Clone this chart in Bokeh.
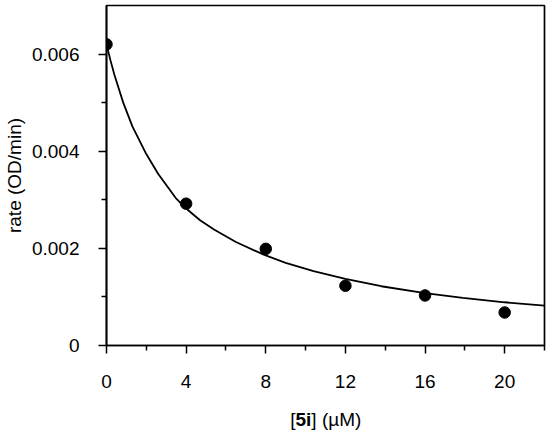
from bokeh.plotting import figure
from bokeh.layouts import column
from bokeh.models import FixedTicker
from bokeh.core.properties import value
from bokeh.embed import file_html
from bokeh.resources import INLINE

# measured points
conc = [0, 4, 8, 12, 16, 20]
rate = [0.00620, 0.00292, 0.00199, 0.00123, 0.00103, 0.00068]

# fitted curve
fit_x = [0, 0.2, 0.4, 0.84, 1.3, 1.96, 2.6, 3.47, 4.0, 4.7, 5.4, 6.5, 7.9, 9.0,
         10.4, 12.0, 13.8, 16.0, 17.9, 20.0, 22.0]
fit_y = [0.00620, 0.00587, 0.00557, 0.00500, 0.00451, 0.00397, 0.00353, 0.00304,
         0.00282, 0.00258, 0.00239, 0.00213, 0.00187, 0.00170, 0.00153, 0.00137,
         0.00122, 0.00108, 0.00098, 0.00089, 0.00082]

x_ticks = [0, 4, 8, 12, 16, 20]
x_minor = [2, 6, 10, 14, 18, 22]
y_ticks = [0, 0.002, 0.004, 0.006]
y_minor = [0.001, 0.003, 0.005]
y_tick_labels = ["0", "0.002", "0.004", "0.006"]

FONT = "Liberation Sans"
FS = "19px"

p = figure(width=550, height=400, x_range=(0, 22), y_range=(0, 0.007),
           output_backend="svg", toolbar_location=None,
           min_border_left=106, min_border_right=6, min_border_top=5,
           min_border_bottom=55)
p.grid.visible = False
p.background_fill_color = "white"
p.border_fill_color = "white"
p.outline_line_color = "black"
p.outline_line_width = 1.7

p.line(fit_x, fit_y, line_color="black", line_width=1.8)
p.scatter(conc, rate, size=11.5, fill_color="black", line_color="black")

for ax in (p.xaxis[0], p.yaxis[0]):
    ax.axis_line_color = "black"
    ax.axis_line_width = 1.7
    ax.major_tick_line_color = "black"
    ax.major_tick_line_width = 1.5
    ax.minor_tick_line_color = "black"
    ax.minor_tick_line_width = 1.5
    ax.major_tick_in = 0
    ax.major_tick_out = 8
    ax.minor_tick_in = 0
    ax.minor_tick_out = 5
    ax.major_label_text_font = FONT
    ax.major_label_text_font_size = FS
    ax.major_label_text_color = "black"
    ax.axis_label_text_font = FONT
    ax.axis_label_text_font_size = FS
    ax.axis_label_text_font_style = "normal"
    ax.axis_label_text_color = "black"

p.xaxis.ticker = FixedTicker(ticks=x_ticks, minor_ticks=x_minor)
p.xaxis.major_label_standoff = 21
p.yaxis.ticker = FixedTicker(ticks=y_ticks, minor_ticks=y_minor)
p.yaxis.major_label_overrides = {t: s for t, s in zip(y_ticks, y_tick_labels)}
p.yaxis.major_label_standoff = 19
p.yaxis.axis_label = "rate (OD/min)"
p.yaxis.axis_label_standoff = 4

# strip below the plot carrying the x axis title with bold compound number
q = figure(width=550, height=32, x_range=p.x_range, y_range=(0, 32),
           output_backend="svg", toolbar_location=None,
           x_axis_type=None, y_axis_type=None,
           min_border_left=106, min_border_right=6, min_border_top=0,
           min_border_bottom=0)
q.grid.visible = False
q.outline_line_color = None
q.background_fill_color = "white"
q.border_fill_color = "white"

base_y = 13.5
q.text(x=[9.493], y=[base_y], text=["["], text_align="right",
       text_baseline="alphabetic", text_font=value(FONT), text_font_size=FS,
       text_color="black")
q.text(x=[9.493], y=[base_y], text=["5i"], text_align="left",
       text_baseline="alphabetic", text_font=value(FONT), text_font_size=FS,
       text_font_style="bold", text_color="black")
q.text(x=[10.29], y=[base_y], text=["] (µM)"], text_align="left",
       text_baseline="alphabetic", text_font=value(FONT), text_font_size=FS,
       text_color="black")

layout = column(p, q, spacing=0)
open("out.html", "w").write(file_html(layout, INLINE))
